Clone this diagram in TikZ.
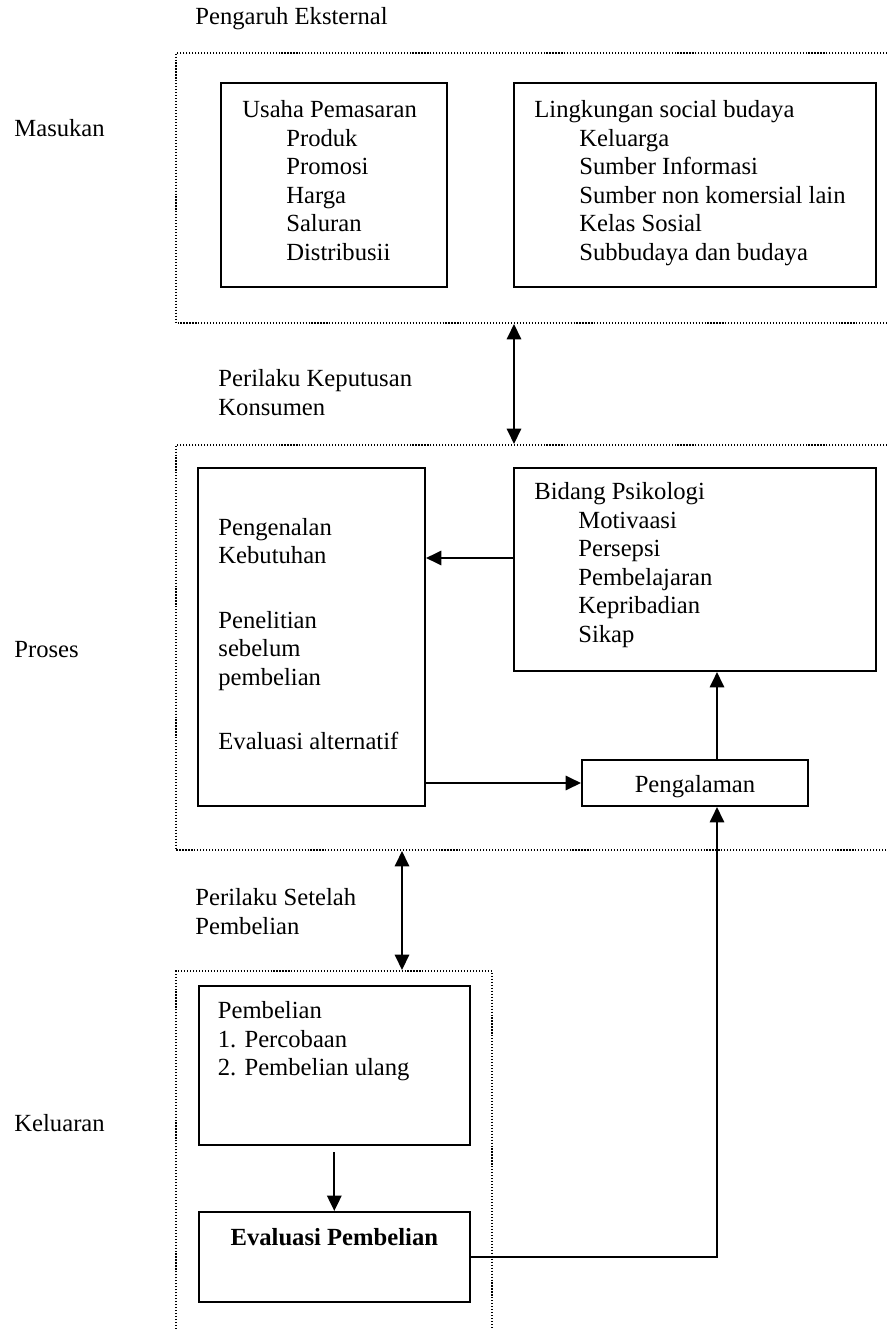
\documentclass[tikz,border=0pt]{standalone}
\usepackage{fontspec}
\setmainfont{Liberation Serif}
\usetikzlibrary{arrows.meta,fit}
\begin{document}
\begin{tikzpicture}[x=0.487pt,y=-0.487pt,
  box/.style={draw,line width=1pt,inner sep=0pt},
  txt/.style={font=\fontsize{12}{13.9}\selectfont,inner sep=0pt,align=left,anchor=north west},
  lbl/.style={font=\fontsize{12}{13.9}\selectfont,inner sep=0pt,anchor=base west},
  dotline/.style={line width=0.55pt,dash pattern=on 0.55pt off 0.9pt},
  arr/.style={line width=1pt,-{Triangle[length=7.5pt,width=7pt]}},
  darr/.style={line width=1pt,{Triangle[length=7.5pt,width=7pt]}-{Triangle[length=7.5pt,width=7pt]}}]
\useasboundingbox (0,0) rectangle (887,1329);

% outer labels
\node[lbl] (pengaruh) at (195,25) {Pengaruh Eksternal};
\node[lbl] (masukan) at (14,137) {Masukan};
\node[lbl] (proses) at (14,657) {Proses};
\node[lbl] (keluaran) at (14,1131) {Keluaran};
\node[txt] (pkk) at (218,369) {Perilaku Keputusan\\Konsumen};
\node[txt] (psp) at (195,888) {Perilaku Setelah\\Pembelian};

% dotted group frames
\draw[dotline] (890,53) -- (176,53) -- (176,323) -- (890,323);
\draw[dotline] (890,445) -- (176,445) -- (176,850) -- (890,850);
\draw[dotline] (176,1335) -- (176,971) -- (492,971) -- (492,1335);
\coordinate (inBot) at (514,324);
\coordinate (prTop) at (514,444);
\coordinate (prBot) at (402,851);
\coordinate (ouTop) at (402,970);

% Masukan boxes
\node[box,fit={(221,83) (447,287)}] (usaha) {};
\node[txt] (usahaT) at (242,100) {Usaha Pemasaran\\\hspace*{21.4pt}Produk\\\hspace*{21.4pt}Promosi\\\hspace*{21.4pt}Harga\\\hspace*{21.4pt}Saluran\\\hspace*{21.4pt}Distribusii};
\node[box,fit={(514,83) (876,287)}] (lingk) {};
\node[txt] (lingkT) at (534,100) {Lingkungan social budaya\\\hspace*{21.9pt}Keluarga\\\hspace*{21.9pt}Sumber Informasi\\\hspace*{21.9pt}Sumber non komersial lain\\\hspace*{21.9pt}Kelas Sosial\\\hspace*{21.9pt}Subbudaya dan budaya};

% Proses boxes
\node[box,fit={(198,468) (425,806)}] (tahap) {};
\node[txt] (t1) at (218,517.7) {Pengenalan\\Kebutuhan};
\node[txt] (t2) at (218,610.7) {Penelitian\\sebelum\\pembelian};
\node[txt] (t3) at (218,731.7) {Evaluasi alternatif};
\node[box,fit={(514,468) (876,671)}] (bidang) {};
\node[txt] (bidangT) at (534,482) {Bidang Psikologi\\\hspace*{21.4pt}Motivaasi\\\hspace*{21.4pt}Persepsi\\\hspace*{21.4pt}Pembelajaran\\\hspace*{21.4pt}Kepribadian\\\hspace*{21.4pt}Sikap};
\node[box,fit={(582,760) (808,806)}] (pengal) {};
\node[font=\fontsize{12}{13.9}\selectfont,inner sep=0pt,anchor=base] (pengalT) at (695,792) {Pengalaman};

% Keluaran boxes
\node[box,fit={(198.6,986) (470,1145)}] (pemb) {};
\node[txt] (pembT) at (217.5,1001.2) {Pembelian\\1. Percobaan\\2. Pembelian ulang};
\node[box,fit={(198.6,1212) (470,1302)}] (evalb) {};
\node[font=\fontsize{12}{13.9}\selectfont\bfseries,inner sep=0pt,anchor=base] (evalT) at (334.3,1245) {Evaluasi Pembelian};

% connectors
\coordinate (yA) at (0,558);
\coordinate (xR) at (717,0);
\draw[darr] (inBot) -- (prTop);
\draw[darr] (prBot) -- (ouTop);
\draw[arr] (bidang.west |- yA) -- (tahap.east |- yA);
\draw[arr] (tahap.east |- pengal.west) -- (pengal.west);
\draw[arr] (pengal.north -| xR) -- (bidang.south -| xR);
\draw[arr] ([yshift=-3pt]pemb.south) -- (evalb.north);
\draw[arr] (evalb.east) -| (pengal.south -| xR);
\end{tikzpicture}
\end{document}
